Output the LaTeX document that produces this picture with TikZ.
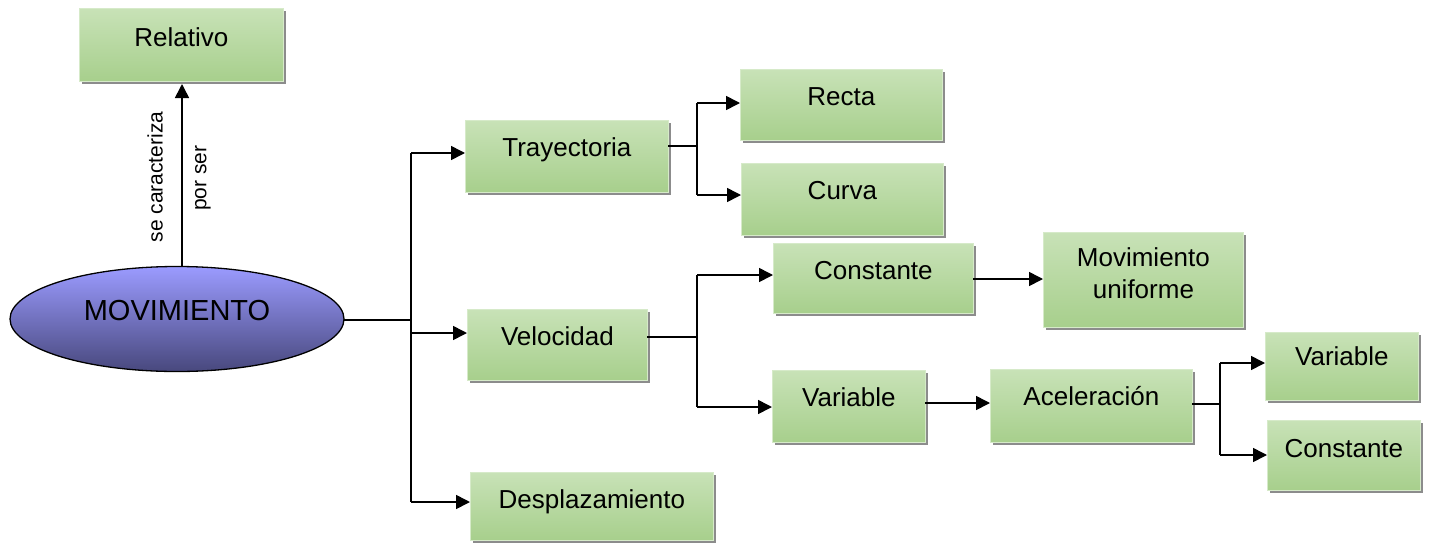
\documentclass[tikz,border=0pt]{standalone}
\usepackage{fontspec}
\setmainfont{Liberation Sans}
\usetikzlibrary{shapes.geometric,shadows,arrows.meta,calc}
\definecolor{gtop}{RGB}{200,226,183}
\definecolor{gbot}{RGB}{167,207,140}
\definecolor{gedge}{RGB}{214,234,201}
\definecolor{etop}{RGB}{155,155,255}
\definecolor{ebot}{RGB}{72,72,125}
\tikzset{
  gbox/.style={anchor=north west, inner sep=0pt, top color=gtop, bottom color=gbot,
    draw=gedge, line width=0.8pt,
    drop shadow={shadow xshift=3pt, shadow yshift=-3pt, fill=black!50, opacity=0.9}},
  btxt/.style={anchor=base, inner sep=0pt, font=\fontsize{26}{31}\selectfont},
  conn/.style={line width=1.6pt},
  arr/.style={line width=1.6pt, -{Triangle[length=14pt,width=14pt]}},
  rtxt/.style={rotate=90, inner sep=0pt, font=\fontsize{21}{25}\selectfont}
}
\newcommand{\gnode}[6]{%
  \node[gbox, minimum width={(#4-#2)*1pt}, minimum height={(#5-#3)*1pt}] (#1) at (#2,#3) {};
}
\begin{document}
\begin{tikzpicture}[x=1pt,y=-1pt]
\useasboundingbox (0,0) rectangle (1446,544);
% boxes
\node[gbox, minimum width=204pt, minimum height=73pt] (rel) at (79,8) {};
\node[gbox, minimum width=203pt, minimum height=72pt] (tray) at (465,120) {};
\node[gbox, minimum width=202pt, minimum height=71pt] (recta) at (740,69) {};
\node[gbox, minimum width=202pt, minimum height=72pt] (curva) at (741,163) {};
\node[gbox, minimum width=180pt, minimum height=71pt] (vel) at (467,309) {};
\node[gbox, minimum width=243pt, minimum height=68pt] (desp) at (470,472) {};
\node[gbox, minimum width=200pt, minimum height=70pt] (const) at (773,243) {};
\node[gbox, minimum width=200pt, minimum height=95pt] (movu) at (1043,232) {};
\node[gbox, minimum width=153pt, minimum height=72pt] (var) at (772,370) {};
\node[gbox, minimum width=202pt, minimum height=73pt] (acel) at (990,369) {};
\node[gbox, minimum width=153pt, minimum height=68pt] (varR) at (1265,332) {};
\node[gbox, minimum width=153pt, minimum height=70pt] (constR) at (1267,420) {};
% texts
\node[btxt] (relT) at ($(rel.north)+(0,38)$) {Relativo};
\node[btxt] (trayT) at ($(tray.north)+(0,36)$) {Trayectoria};
\node[btxt] (rectaT) at ($(recta.north)+(0,36)$) {Recta};
\node[btxt] (curvaT) at ($(curva.north)+(0,36)$) {Curva};
\node[btxt] (velT) at ($(vel.north)+(0,36)$) {Velocidad};
\node[btxt] (despT) at ($(desp.north)+(0,36)$) {Desplazamiento};
\node[btxt] (constT) at ($(const.north)+(0,36)$) {Constante};
\node[btxt] (movuT1) at ($(movu.north)+(0,34)$) {Movimiento};
\node[btxt] (movuT2) at ($(movu.north)+(0,66)$) {uniforme};
\node[btxt] (varT) at ($(var.north)+(0,36)$) {Variable};
\node[btxt] (acelT) at ($(acel.north)+(0,36)$) {Aceleración};
\node[btxt] (varRT) at ($(varR.north)+(0,33)$) {Variable};
\node[btxt] (constRT) at ($(constR.north)+(0,37)$) {Constante};
% ellipse
\node[ellipse, draw=black, line width=1.3pt, top color=etop, bottom color=ebot,
  minimum width=334pt, minimum height=105pt, inner sep=0pt] (mov) at (177,319) {};
\node[anchor=base, inner sep=0pt, font=\fontsize{29}{34}\selectfont] (movT) at (177,320) {MOVIMIENTO};
% relativo arrow and labels
\coordinate (mtop) at (182,266);
\coordinate (rbot) at (182,84);
\draw[arr] (mtop) -- (rbot);
\node[rtxt] (lab1) at (155,177) {se caracteriza};
\node[rtxt] (lab2) at (203,178) {por ser};
% trunk from movimiento
\coordinate (m1) at (344,320);
\coordinate (tm) at (411,320);
\coordinate (t1) at (411,153);
\coordinate (t2) at (411,333);
\coordinate (t3) at (411,502);
\draw[conn] (m1) -- (tm);
\draw[conn] (t1) -- (t3);
\draw[arr] (t1) -- (t1 -| tray.west);
\draw[arr] (t2) -- (t2 -| vel.west);
\draw[arr] (t3) -- (t3 -| desp.west);
% trayectoria branches
\coordinate (a0) at (668,146);
\coordinate (a1) at (697,146);
\coordinate (a2) at (697,103);
\coordinate (a3) at (697,195);
\draw[conn] (a0) -- (a1);
\draw[conn] (a2) -- (a3);
\draw[arr] (a2) -- (a2 -| recta.west);
\draw[arr] (a3) -- (a3 -| curva.west);
% velocidad branches
\coordinate (b0) at (647,337);
\coordinate (b1) at (697,337);
\coordinate (b2) at (697,275);
\coordinate (b3) at (697,407);
\draw[conn] (b0) -- (b1);
\draw[conn] (b2) -- (b3);
\draw[arr] (b2) -- (b2 -| const.west);
\draw[arr] (b3) -- (b3 -| var.west);
% constante -> movimiento uniforme
\coordinate (c0) at (973,279);
\draw[arr] (c0) -- (c0 -| movu.west);
% variable -> aceleracion
\coordinate (d0) at (925,403);
\draw[arr] (d0) -- (d0 -| acel.west);
% aceleracion branches
\coordinate (e0) at (1192,404);
\coordinate (e1) at (1220,404);
\coordinate (e2) at (1220,363);
\coordinate (e3) at (1220,455);
\draw[conn] (e0) -- (e1);
\draw[conn] (e2) -- (e3);
\draw[arr] (e2) -- (e2 -| varR.west);
\draw[arr] (e3) -- (e3 -| constR.west);
\end{tikzpicture}
\end{document}
